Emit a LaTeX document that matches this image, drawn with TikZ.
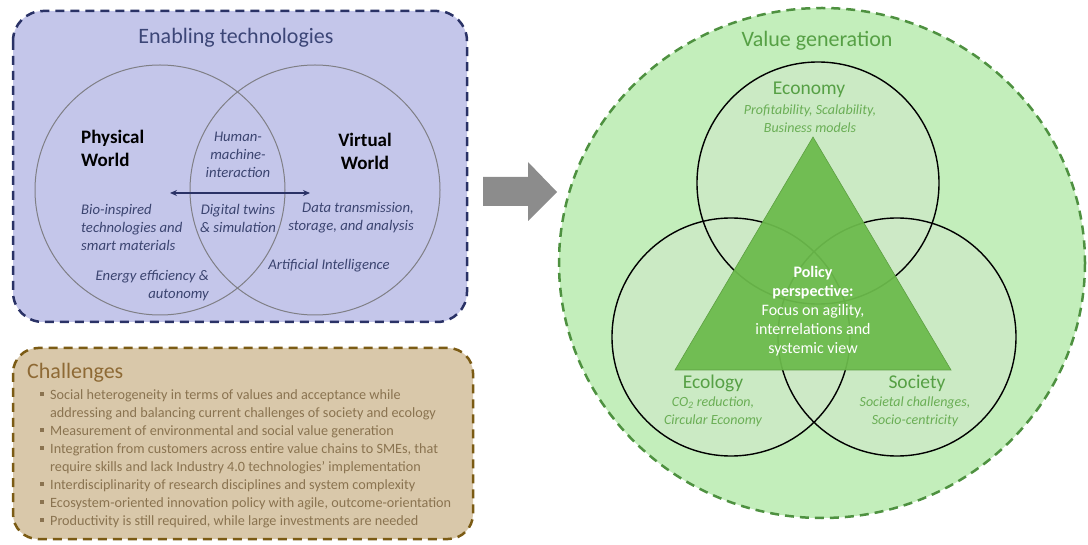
\documentclass[tikz,border=0pt]{standalone}
\usepackage{fontspec}
\setmainfont{Carlito}
\usetikzlibrary{arrows.meta}
\definecolor{bluefill}{HTML}{C4C6EA}
\definecolor{blueborder}{HTML}{2A3266}
\definecolor{bluetext}{HTML}{3C4677}
\definecolor{venntext}{HTML}{3B4470}
\definecolor{venncircle}{HTML}{7F7F85}
\definecolor{tanfill}{HTML}{D9C8AA}
\definecolor{tanborder}{HTML}{7B5B14}
\definecolor{tantitle}{HTML}{8E6A35}
\definecolor{tantext}{HTML}{8A7350}
\definecolor{greenfill}{HTML}{C3EEBB}
\definecolor{greenborder}{HTML}{4E9140}
\definecolor{greentext}{HTML}{56A045}
\definecolor{greensub}{HTML}{6AAE55}
\definecolor{innerfill}{HTML}{CFE9C8}
\definecolor{trifill}{HTML}{6CBB4C}
\definecolor{arrowgrey}{HTML}{8C8C8C}
\newcommand\sqbul{\rule[0.22em]{0.28em}{0.28em}}
\tikzset{
  ttl/.style={font=\fontsize{22}{26}\selectfont, inner sep=0pt},
  world/.style={font=\fontsize{19}{23}\selectfont\bfseries, text=black, inner sep=0pt},
  vitem/.style={font=\fontsize{14.7}{18}\selectfont\itshape, text=venntext, inner sep=0pt},
  gsub/.style={font=\fontsize{14}{18}\selectfont\itshape, text=greensub, inner sep=0pt, align=center},
  glabel/.style={font=\fontsize{19.5}{23}\selectfont, text=greentext, inner sep=0pt},
}
\begin{document}
\begin{tikzpicture}[x=1pt,y=-1pt]
\useasboundingbox (0,0) rectangle (1088,545);
% ---------- Enabling technologies box
\draw[fill=bluefill, draw=blueborder, line width=2.5pt, dash pattern=on 9pt off 6pt, rounded corners=30pt]
  (13,11) rectangle (467,322);
\node[ttl, text=bluetext] (enab) at (236,38) {Enabling technologies};
\draw[venncircle, line width=1pt] (160,190) circle (125);
\draw[venncircle, line width=1pt] (315,190) circle (125);
\node[world, anchor=west, align=left] (phys) at (81,148.5) {Physical\\World};
\node[world, align=center] (virt) at (365,151.5) {Virtual\\World};
\node[vitem, align=center] (hmi) at (238,155) {Human-\\machine-\\interaction};
\coordinate (arrL) at (170,193);
\coordinate (arrR) at (310,193);
\draw[blueborder, line width=1.6pt, {Stealth[length=7pt,width=6pt]}-{Stealth[length=7pt,width=6pt]}] (arrL) -- (arrR);
\node[vitem, align=center] (dt) at (238,218) {Digital twins\\\& simulation};
\node[vitem, anchor=west, align=left] (bio) at (81,227) {Bio-inspired\\technologies and\\smart materials};
\node[vitem, anchor=east, align=right] (data) at (414,218) {Data transmission,\\storage, and analysis};
\node[vitem] (ai) at (329,266) {Artificial Intelligence};
\node[vitem, anchor=east, align=right] (energy) at (209,285.5) {Energy efficiency \&\\autonomy};
% ---------- Challenges box
\draw[fill=tanfill, draw=tanborder, line width=2.5pt, dash pattern=on 9pt off 6pt, rounded corners=25pt]
  (13,348) rectangle (473,539);
\node[ttl, text=tantitle, anchor=west] (chal) at (27,373) {Challenges};
\node[anchor=west, inner sep=0pt, text=tantext, font=\fontsize{14.2}{18}\selectfont] (items) at (40,458.5) {%
\begin{tabular}{@{}l@{\hspace{6pt}}l@{}}
\sqbul & Social heterogeneity in terms of values and acceptance while\\
 & addressing and balancing current challenges of society and ecology\\
\sqbul & Measurement of environmental and social value generation\\
\sqbul & Integration from customers across entire value chains to SMEs, that\\
 & require skills and lack Industry 4.0 technologies' implementation\\
\sqbul & Interdisciplinarity of research disciplines and system complexity\\
\sqbul & Ecosystem-oriented innovation policy with agile, outcome-orientation\\
\sqbul & Productivity is still required, while large investments are needed
\end{tabular}};
% ---------- grey block arrow
\fill[arrowgrey] (483,177) -- (528,177) -- (528,162) -- (557,192) -- (528,221) -- (528,206) -- (483,206) -- cycle;
% ---------- Value generation
\draw[fill=greenfill, draw=greenborder, line width=2.5pt, dash pattern=on 9pt off 6pt]
  (822,263) ellipse (263 and 255);
\node[ttl, text=greentext] (valgen) at (817,41) {Value generation};
\fill[innerfill, fill opacity=0.75] (818,183) circle (121);
\fill[innerfill, fill opacity=0.75] (731,337) circle (119);
\fill[innerfill, fill opacity=0.75] (897,337) circle (119);
\draw[black, line width=1.4pt] (818,183) circle (121);
\draw[black, line width=1.4pt] (731,337) circle (119);
\draw[black, line width=1.4pt] (897,337) circle (119);
\coordinate (apex) at (813,137);
\coordinate (bl) at (675,370);
\coordinate (br) at (951,370);
\fill[trifill, fill opacity=0.94] (apex) -- (br) -- (bl) -- cycle;
\draw[trifill!85!black, line width=0.6pt] (apex) -- (br) -- (bl) -- cycle;
\node[inner sep=0pt, text=white, align=center, font=\fontsize{16}{19}\selectfont] (policy) at (813,311.5)
  {\textbf{Policy}\\\textbf{perspective:}\\Focus on agility,\\interrelations and\\systemic view};
\node[glabel] (econ) at (809,90) {Economy};
\node[gsub] (econsub) at (810,119) {Profitability, Scalability,\\Business models};
\node[glabel] (ecol) at (713,383) {Ecology};
\node[gsub] (ecolsub) at (713,412) {CO\textsubscript{2} reduction,\\Circular Economy};
\node[glabel] (soc) at (917,383) {Society};
\node[gsub] (socsub) at (915,412) {Societal challenges,\\Socio-centricity};
\end{tikzpicture}
\end{document}
